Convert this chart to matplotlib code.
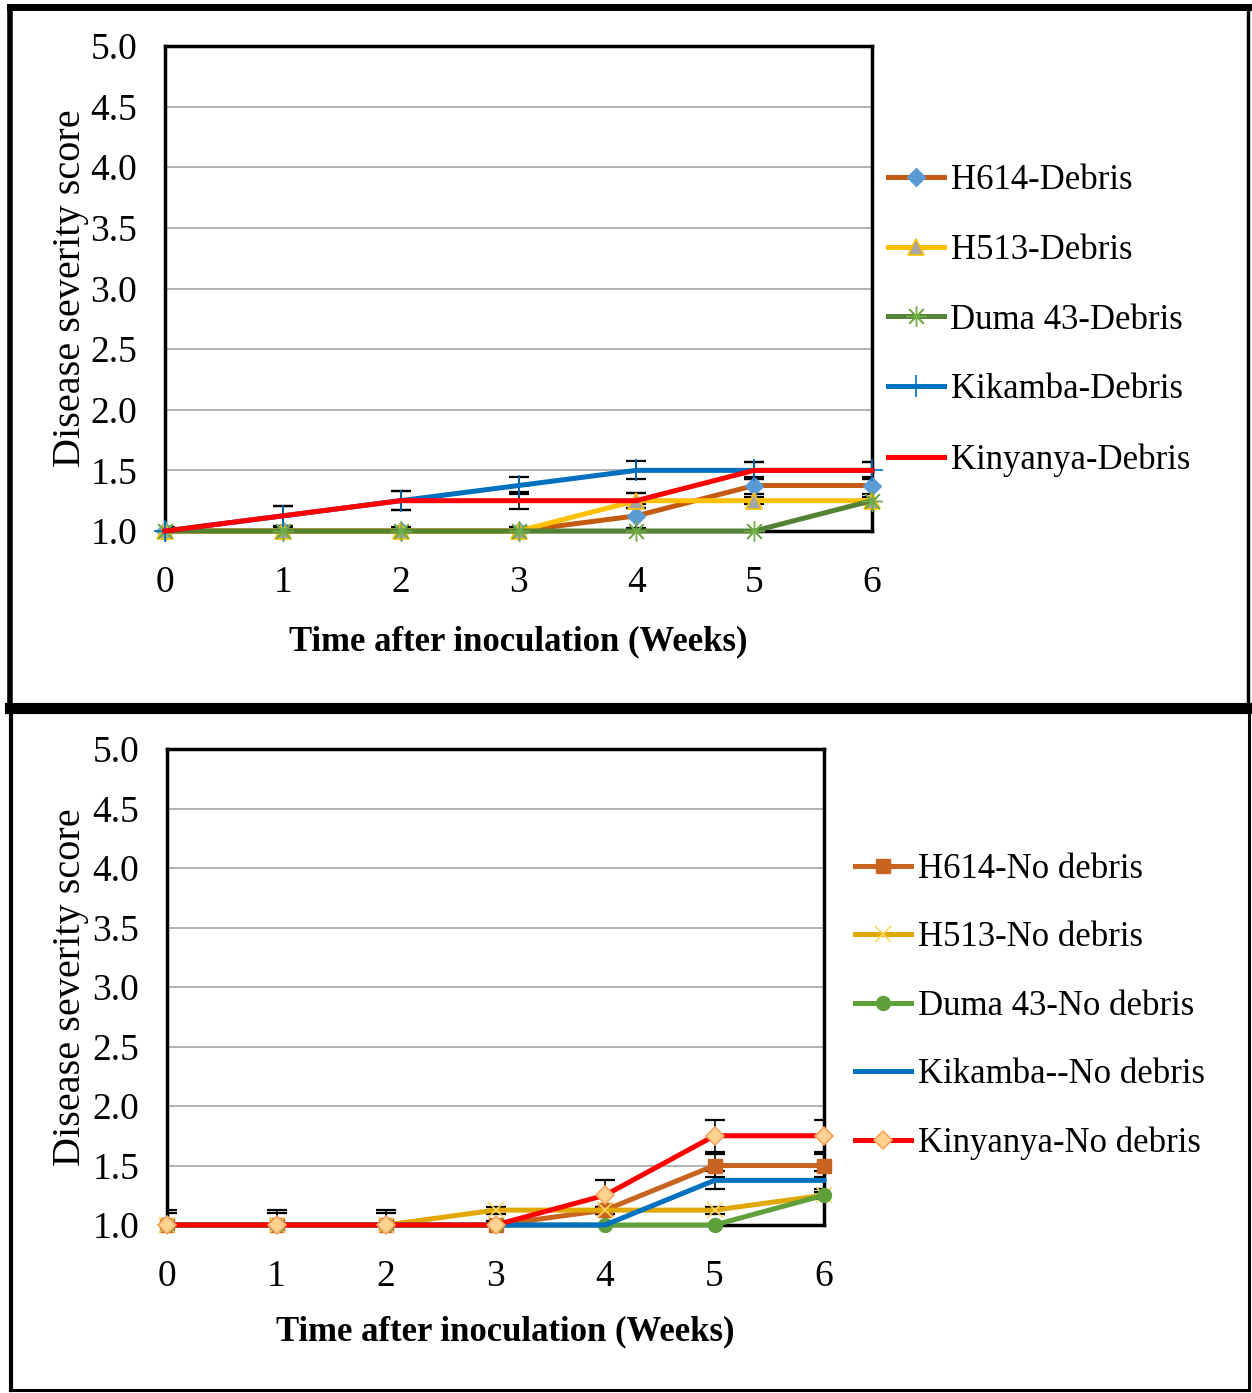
import numpy as np
import matplotlib
matplotlib.use("Agg")
import matplotlib.pyplot as plt
from matplotlib.lines import Line2D
from matplotlib.ticker import FormatStrFormatter

plt.rcParams['font.family'] = ['Liberation Serif', 'DejaVu Serif']

weeks = [0, 1, 2, 3, 4, 5, 6]

# disease severity, plots with crop debris
h614_debris = [1, 1, 1, 1, 1.125, 1.375, 1.375]
h513_debris = [1, 1, 1, 1, 1.25, 1.25, 1.25]
duma_debris = [1, 1, 1, 1, 1, 1, 1.25]
kikamba_debris = [1, 1.125, 1.25, 1.375, 1.5, 1.5, 1.5]
kinyanya_debris = [1, 1.125, 1.25, 1.25, 1.25, 1.5, 1.5]

h614_debris_se = [0.03, 0.03, 0.03, 0.03, 0.1, 0.07, 0.07]
h513_debris_se = [0, 0, 0, 0, 0.06, 0.03, 0.03]
duma_debris_se = [0, 0, 0, 0, 0, 0, 0]
kikamba_debris_se = [0, 0.085, 0.08, 0.07, 0.075, 0.07, 0.07]
kinyanya_debris_se = [0, 0.085, 0.08, 0.07, 0.06, 0.07, 0.07]

# disease severity, plots without debris
h614_clean = [1, 1, 1, 1, 1.125, 1.5, 1.5]
h513_clean = [1, 1, 1, 1.125, 1.125, 1.125, 1.25]
duma_clean = [1, 1, 1, 1, 1, 1, 1.25]
kikamba_clean = [1, 1, 1, 1, 1, 1.375, 1.375]
kinyanya_clean = [1, 1, 1, 1, 1.25, 1.75, 1.75]

h614_clean_se = [0.1, 0.1, 0.1, 0.03, 0.03, 0.1, 0.1]
h513_clean_se = [0.13, 0.13, 0.13, 0.03, 0.03, 0.03, 0.03]
duma_clean_se = [0, 0, 0, 0, 0, 0, 0]
kikamba_clean_se = [0, 0, 0, 0, 0, 0.075, 0.075]
kinyanya_clean_se = [0, 0, 0, 0, 0.125, 0.135, 0.135]

W, H = 1252, 1393
fig = plt.figure(figsize=(W / 100, H / 100), dpi=100)
fig.patch.set_facecolor('white')


def px(x, y):
    return x / W, 1 - y / H


def frame_line(x0, y0, x1, y1, lw):
    a, b = px(x0, y0)
    c, d = px(x1, y1)
    fig.add_artist(Line2D([a, c], [b, d], transform=fig.transFigure,
                          color='black', lw=lw, solid_capstyle='projecting'))


# panel borders
frame_line(9.5, 6.5, 1248, 6.5, 5)
frame_line(9.5, 6.5, 9.5, 707, 4)
frame_line(1248, 6.5, 1248, 707, 2.5)
frame_line(9.5, 707.5, 1248, 707.5, 8)
frame_line(10.5, 707, 10.5, 1389.5, 3)
frame_line(10.5, 1389.5, 1248.5, 1389.5, 2.2)
frame_line(1248.5, 707, 1248.5, 1389.5, 2.2)


def style_axes(ax):
    ax.set_xlim(0, 6)
    ax.set_ylim(1, 5)
    ax.set_xticks(weeks)
    ax.set_yticks(np.arange(1, 5.01, 0.5))
    ax.yaxis.set_major_formatter(FormatStrFormatter('%.1f'))
    ax.yaxis.grid(True, color='#A6A6A6', lw=1.2, zorder=0)
    ax.set_axisbelow(True)
    ax.tick_params(length=0, labelsize=27)
    ax.tick_params(axis='x', pad=25)
    ax.tick_params(axis='y', pad=20)
    for s in ax.spines.values():
        s.set_linewidth(2.5)
        s.set_color('black')
    ax.set_ylabel('Disease severity score', fontsize=29)
    ax.set_xlabel('Time after inoculation (Weeks)', fontsize=25,
                  fontweight='bold')


def series(ax, y, se, label, color, **mk):
    ax.errorbar(weeks, y, yerr=se, fmt='none', ecolor='black', elinewidth=1.2,
                capsize=7, capthick=1.6, zorder=2)
    line, = ax.plot(weeks, y, color=color, lw=3.6, label=label, zorder=3,
                    clip_on=False, **mk)
    return line


# top panel: with debris
ax1 = fig.add_axes([165 / W, 1 - 531 / H, (872 - 165) / W, (531 - 46) / H])
style_axes(ax1)
series(ax1, h614_debris, h614_debris_se, 'H614-Debris', '#C55A11',
       marker='D', ms=9, mfc='#5B9BD5', mec='#5B9BD5')
series(ax1, h513_debris, h513_debris_se, 'H513-Debris', '#FFC000',
       marker='^', ms=11, mfc='#A5A5A5', mec='#FFC000', mew=1.2)
series(ax1, duma_debris, duma_debris_se, 'Duma 43-Debris', '#548235',
       marker=(8, 2, 0), ms=15, mec='#70AD47', mew=1.0)
series(ax1, kikamba_debris, kikamba_debris_se, 'Kikamba-Debris', '#0070C0',
       marker='+', ms=16, mec='#0070C0', mew=1.2)
series(ax1, kinyanya_debris, kinyanya_debris_se, 'Kinyanya-Debris', '#FF0000')
ax1.yaxis.set_label_coords(-0.108, 0.5)
ax1.xaxis.set_label_coords(0.5, -0.195)
ax1.legend(loc='upper left', bbox_to_anchor=px(888, 164),
           bbox_transform=fig.transFigure, frameon=False,
           fontsize=25, handlelength=1.6, handletextpad=0.2, labelspacing=1.06,
           borderpad=0, borderaxespad=0)

# bottom panel: without debris
ax2 = fig.add_axes([167 / W, 1 - 1225 / H, (824 - 167) / W, (1225 - 749) / H])
style_axes(ax2)
series(ax2, h614_clean, h614_clean_se, 'H614-No debris', '#C8641F',
       marker='s', ms=10, mfc='#C8641F', mec='#C8641F')
series(ax2, h513_clean, h513_clean_se, 'H513-No debris', '#E0A800',
       marker='x', ms=12, mec='#FFD966', mew=1.2)
series(ax2, duma_clean, duma_clean_se, 'Duma 43-No debris', '#5FA03A',
       marker='o', ms=10, mfc='#5FA03A', mec='#5FA03A')
series(ax2, kikamba_clean, kikamba_clean_se, 'Kikamba--No debris', '#0070C0')
series(ax2, kinyanya_clean, kinyanya_clean_se, 'Kinyanya-No debris', '#FF0000',
       marker='D', ms=9, mfc='#FFD38F', mec='#F4A460', mew=1.2)
ax2.yaxis.set_label_coords(-0.118, 0.5)
ax2.xaxis.set_label_coords(0.515, -0.19)
ax2.legend(loc='upper left', bbox_to_anchor=px(855, 853),
           bbox_transform=fig.transFigure, frameon=False,
           fontsize=25, handlelength=1.6, handletextpad=0.2, labelspacing=1.02,
           borderpad=0, borderaxespad=0)

fig.savefig('out.png', dpi=100)
